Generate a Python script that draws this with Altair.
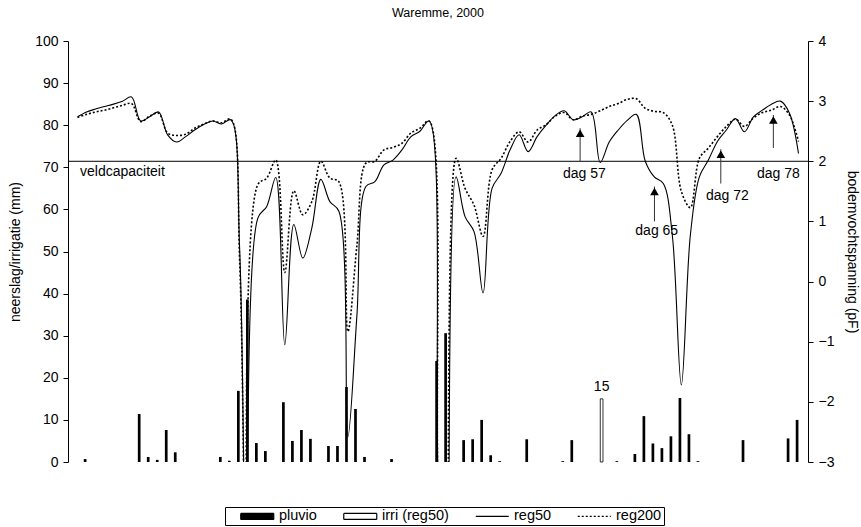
import json
import altair as alt
import pandas as pd

# ---------------- data ----------------
TITLE = "Waremme, 2000"
TICK_LABELS = ["14/06", "21/06", "28/06", "5/07", "12/07", "19/07",
               "26/07", "2/08", "9/08", "16/08", "23/08", "30/08"]

# daily rain (mm), 14/06 .. 02/09
PLUVIO = [0, 0.7, 0, 0, 0, 0, 0, 11.4, 1.2, 0.5,
          7.6, 2.3, 0, 0, 0, 0, 1.2, 0.3, 16.9, 38.6,
          4.5, 2.6, 0, 14.2, 5.0, 7.6, 5.5, 0, 3.8, 3.8,
          17.8, 12.6, 1.2, 0, 0, 0.7, 0, 0, 0, 0,
          24.0, 30.6, 0, 5.2, 5.4, 10.0, 1.6, 0.2, 0, 0,
          5.4, 0, 0, 0, 0.2, 5.2, 0, 0, 0, 0,
          0.2, 0, 1.9, 10.9, 4.4, 3.3, 6.1, 15.2, 6.6, 0.2,
          0, 0, 0, 0, 5.2, 0, 0, 0, 0, 5.6,
          10.0]

# daily irrigation (mm), reg50
IRRI = [0, 0, 0, 0, 0, 0, 0, 0, 0, 0,
        0, 0, 0, 0, 0, 0, 0, 0, 0, 0,
        0, 0, 0, 0, 0, 0, 0, 0, 0, 0,
        0, 0, 0, 0, 0, 0, 0, 0, 0, 0,
        0, 0, 0, 0, 0, 0, 0, 0, 0, 0,
        0, 0, 0, 0, 0, 0, 0, 0, 15, 0,
        0, 0, 0, 0, 0, 0, 0, 0, 0, 0,
        0, 0, 0, 0, 0, 0, 0, 0, 0, 0,
        0]

# soil water tension (pF)
REG50 = [2.74, 2.82, 2.87, 2.91, 2.95, 3.00, 3.07, 2.67, 2.74, 2.82,
         2.44, 2.32, 2.41, 2.52, 2.61, 2.67, 2.62, 2.69, 0.5, -10,
         1.05, 1.25, 1.73, -1.05, 0.95, 0.39, 0.89, 1.70, 1.33, 1.17,
         -2.58, -0.57, 1.58, 1.66, 1.94, 2.02, 2.19, 2.41, 2.50, 2.67,
         -3.3, -10, 1.74, 1.08, 0.83, -0.19, 1.55, 1.80, 2.19, 2.44,
         2.16, 2.41, 2.60, 2.76, 2.84, 2.69, 2.74, 2.82, 1.98, 2.32,
         2.52, 2.68, 2.78, 2.00, 1.74, 1.63, 0.77, -1.72, 0.77, 1.74,
         2.02, 2.33, 2.52, 2.71, 2.49, 2.74, 2.85, 2.95, 3.00, 2.80,
         2.13]

REG200 = [2.73, 2.78, 2.82, 2.85, 2.89, 2.93, 2.96, 2.66, 2.75, 2.80,
          2.47, 2.43, 2.45, 2.55, 2.62, 2.67, 2.64, 2.70, 0.3, -10,
          1.61, 1.72, 2.02, 0.15, 1.51, 1.11, 1.33, 2.00, 1.72, 1.66,
          -0.83, 0.60, 1.97, 2.00, 2.19, 2.23, 2.30, 2.47, 2.55, 2.67,
          -3.5, -10, 2.05, 1.55, 1.27, 0.75, 1.86, 2.05, 2.33, 2.49,
          2.32, 2.52, 2.61, 2.75, 2.81, 2.69, 2.75, 2.78, 2.84, 2.91,
          2.96, 3.03, 3.04, 2.88, 2.83, 2.81, 2.60, 1.50, 1.23, 2.05,
          2.22, 2.41, 2.58, 2.70, 2.58, 2.72, 2.81, 2.85, 2.91, 2.77,
          2.33]

VELDCAP_PF = [2.0]
VELDCAP_LABEL = ["veldcapaciteit"]

ANN_LABELS = ["dag 57", "dag 65", "dag 72", "dag 78"]
ANN_DAY = [56.27, 64.52, 71.88, 77.71]
ANN_BASE = [2.00, 1.00, 1.63, 2.22]
ANN_TIP = [2.55, 1.58, 2.20, 2.77]
ANN_TEXT_DAY = [56.75, 64.77, 72.60, 78.26]
ANN_TEXT_PF = [1.79, 0.84, 1.43, 1.79]

LEGEND_ITEMS = ["pluvio", "irri (reg50)", "reg50", "reg200"]

# ---------------- tables ----------------
n_days = len(PLUVIO)
days = list(range(n_days))
bars = pd.DataFrame({"day": days, "pluvio": PLUVIO, "irri": IRRI})
lines = pd.DataFrame({
    "day": days + days,
    "pF": REG50 + REG200,
    "series": ["reg50"] * n_days + ["reg200"] * n_days,
})
veld = pd.DataFrame({"pF": VELDCAP_PF, "label": VELDCAP_LABEL, "day": [0]})
ann = pd.DataFrame({"label": ANN_LABELS, "day": ANN_DAY, "base": ANN_BASE,
                    "tip": ANN_TIP, "tday": ANN_TEXT_DAY, "tpf": ANN_TEXT_PF})
legend_df = pd.DataFrame({"series": LEGEND_ITEMS})

# ---------------- styling ----------------
FONT = "Liberation Sans"
FS = 14
x_scale = alt.Scale(domain=[0, n_days], nice=False, zero=False)
mm_scale = alt.Scale(domain=[0, 100], nice=False, zero=True)
pf_scale = alt.Scale(domain=[-3, 4], nice=False, zero=False)

x_axis = alt.Axis(
    values=[7 * i for i in range(len(TICK_LABELS))],
    labelExpr=json.dumps(TICK_LABELS) + "[round(datum.value / 7)]",
    title=None, grid=False, domainColor="black", tickColor="black",
    labelColor="black", labelFont=FONT, labelFontSize=FS, tickSize=4,
    labelPadding=3, labelFlush=False, labelOverlap=False,
)
left_axis = alt.Axis(
    values=list(range(0, 101, 10)), title="neerslag/irrigatie (mm)",
    grid=False, domainColor="black", tickColor="black", labelColor="black",
    labelFont=FONT, labelFontSize=FS, tickSize=5, labelPadding=5,
    titleFont=FONT, titleFontSize=FS, titleFontWeight="normal",
    titleColor="black", titlePadding=12,
)
right_axis = alt.Axis(
    orient="right", values=list(range(-3, 5)), title="bodemvochtspanning (pF)",
    grid=False, domainColor="black", tickColor="black", labelColor="black",
    labelFont=FONT, labelFontSize=FS, tickSize=5, labelPadding=5,
    titleFont=FONT, titleFontSize=FS, titleFontWeight="normal",
    titleColor="black", titlePadding=11,
)

xq = alt.X("xpos:Q", scale=x_scale, axis=None)
INTERP = "catmull-rom"

# ---------------- bars (mm) ----------------
bar_base = alt.Chart(bars).transform_calculate(xpos="datum.day + 0.5")
pluvio_bar = bar_base.transform_filter("datum.pluvio > 0").mark_bar(
    width=2.7, xOffset=-1.4, color="black"
).encode(
    x=alt.X("xpos:Q", scale=x_scale, axis=x_axis),
    y=alt.Y("pluvio:Q", scale=mm_scale, axis=left_axis),
)
irri_bar = bar_base.transform_filter("datum.irri > 0").mark_bar(
    width=2.7, xOffset=1.4, fill="white", stroke="black", strokeWidth=0.8
).encode(x=xq, y=alt.Y("irri:Q", scale=mm_scale, axis=None))
irri_label = bar_base.transform_filter("datum.irri > 0").mark_text(
    xOffset=1.4, dy=-5, baseline="bottom", font=FONT, fontSize=FS, color="black"
).encode(x=xq, y=alt.Y("irri:Q", scale=mm_scale, axis=None),
         text=alt.Text("irri:Q", format="d"))

# ---------------- lines (pF) ----------------
line_base = alt.Chart(lines).transform_calculate(xpos="datum.day + 0.5")
reg50_line = line_base.transform_filter("datum.series == 'reg50'").mark_line(
    interpolate=INTERP, clip=True, color="black", strokeWidth=1.1
).encode(x=xq, y=alt.Y("pF:Q", scale=pf_scale, axis=right_axis))
reg200_line = line_base.transform_filter("datum.series == 'reg200'").mark_line(
    interpolate=INTERP, clip=True, color="black", strokeWidth=1.6,
    strokeDash=[2, 2]
).encode(x=xq, y=alt.Y("pF:Q", scale=pf_scale, axis=None))
veld_rule = alt.Chart(veld).mark_rule(color="black", strokeWidth=1).encode(
    y=alt.Y("pF:Q", scale=pf_scale, axis=None))
veld_text = alt.Chart(veld).mark_text(
    align="left", baseline="top", dx=7, dy=4, font=FONT, fontSize=FS, color="black"
).encode(x=alt.X("day:Q", scale=x_scale, axis=None),
         y=alt.Y("pF:Q", scale=pf_scale, axis=None), text="label:N")
ann_rule = alt.Chart(ann).mark_rule(color="#333333", strokeWidth=1).encode(
    x=alt.X("day:Q", scale=x_scale, axis=None),
    y=alt.Y("base:Q", scale=pf_scale, axis=None), y2="tip:Q")
ann_head = alt.Chart(ann).mark_point(
    shape="triangle-up", filled=True, color="black", size=75, opacity=1, yOffset=5
).encode(x=alt.X("day:Q", scale=x_scale, axis=None),
         y=alt.Y("tip:Q", scale=pf_scale, axis=None))
ann_text = alt.Chart(ann).mark_text(
    baseline="middle", font=FONT, fontSize=FS, color="black"
).encode(x=alt.X("tday:Q", scale=x_scale, axis=None),
         y=alt.Y("tpf:Q", scale=pf_scale, axis=None), text="label:N")

# ---------------- legend (explicit domain, no marks drawn) ----------------
RECT = "M-4.125,-0.75L4.125,-0.75L4.125,0.75L-4.125,0.75Z"
LINE = "M-4.125,0L4.125,0"
leg = alt.Legend(
    title="\u00a0\u00a0", titleOrient="left", titlePadding=10.5, titleFontSize=14.5,
    orient="none", legendX=157, legendY=466, direction="horizontal", columns=4,
    strokeColor="black", fillColor="white", padding=2, columnPadding=23,
    symbolSize=64, symbolOffset=12.5, symbolStrokeWidth=1.2, symbolOpacity=1,
    labelFont=FONT, labelFontSize=14.5, labelColor="black", labelOffset=14.5,
)
legend_layer = alt.Chart(legend_df).transform_filter("false").mark_point(
    filled=True, opacity=1
).encode(
    shape=alt.Shape("series:N", scale=alt.Scale(domain=LEGEND_ITEMS,
                    range=[RECT, RECT, LINE, LINE]), legend=leg),
    fill=alt.Fill("series:N", scale=alt.Scale(domain=LEGEND_ITEMS,
                  range=["black", "white", "transparent", "transparent"]), legend=leg),
    stroke=alt.Stroke("series:N", scale=alt.Scale(domain=LEGEND_ITEMS,
                      range=["black", "black", "black", "black"]), legend=leg),
    strokeDash=alt.StrokeDash("series:N", scale=alt.Scale(domain=LEGEND_ITEMS,
                              range=[[1, 0], [1, 0], [1, 0], [2, 2]]), legend=leg),
)

chart = alt.layer(
    pluvio_bar, irri_bar, irri_label,
    veld_rule, reg200_line, reg50_line, veld_text,
    ann_rule, ann_head, ann_text, legend_layer,
).resolve_scale(
    y="independent"
).properties(
    width=740, height=421,
    title=alt.TitleParams(text=TITLE, font=FONT, fontSize=12.5, fontWeight="normal",
                          color="black", anchor="middle", offset=15),
    autosize=alt.AutoSizeParams(type="none"),
    padding={"left": 68, "top": 41, "right": 53, "bottom": 65},
).configure_view(stroke=None)

chart.save("out.html", embed_options={"renderer": "svg", "actions": False})
